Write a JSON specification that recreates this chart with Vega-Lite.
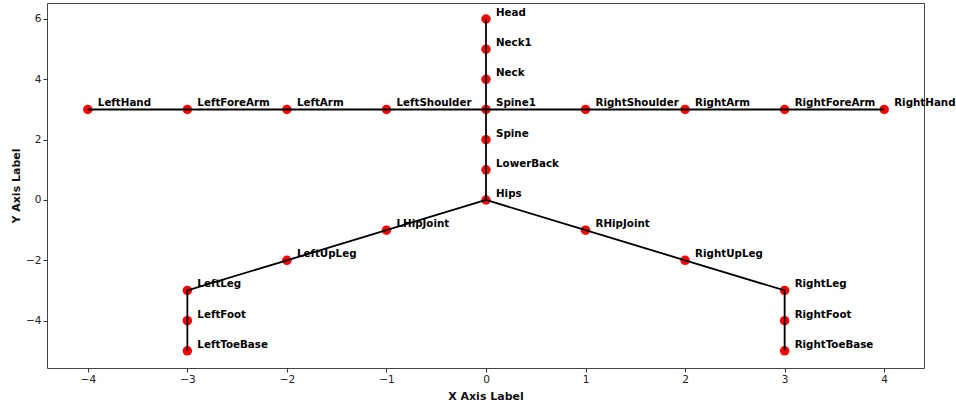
{
  "$schema": "https://vega.github.io/schema/vega-lite/v6.json",
  "width": 877,
  "height": 365,
  "autosize": {"type": "none"},
  "padding": {"left": 47, "top": 3, "right": 32, "bottom": 34},
  "background": "white",
  "config": {
    "view": {"stroke": "#444", "strokeWidth": 1},
    "font": "DejaVu Sans",
    "axis": {
      "grid": false,
      "domain": false,
      "tickColor": "#333",
      "tickSize": 4,
      "labelFont": "DejaVu Sans",
      "labelFontSize": 10.5,
      "labelColor": "#222",
      "titleFont": "DejaVu Sans",
      "titleFontSize": 11,
      "titleFontWeight": "bold",
      "titleColor": "#111"
    }
  },
  "datasets": {
    "joints": [
      {"name": "Hips", "x": 0, "y": 0},
      {"name": "LowerBack", "x": 0, "y": 1},
      {"name": "Spine", "x": 0, "y": 2},
      {"name": "Spine1", "x": 0, "y": 3},
      {"name": "Neck", "x": 0, "y": 4},
      {"name": "Neck1", "x": 0, "y": 5},
      {"name": "Head", "x": 0, "y": 6},
      {"name": "LeftShoulder", "x": -1, "y": 3},
      {"name": "LeftArm", "x": -2, "y": 3},
      {"name": "LeftForeArm", "x": -3, "y": 3},
      {"name": "LeftHand", "x": -4, "y": 3},
      {"name": "RightShoulder", "x": 1, "y": 3},
      {"name": "RightArm", "x": 2, "y": 3},
      {"name": "RightForeArm", "x": 3, "y": 3},
      {"name": "RightHand", "x": 4, "y": 3},
      {"name": "LHipJoint", "x": -1, "y": -1},
      {"name": "LeftUpLeg", "x": -2, "y": -2},
      {"name": "LeftLeg", "x": -3, "y": -3},
      {"name": "LeftFoot", "x": -3, "y": -4},
      {"name": "LeftToeBase", "x": -3, "y": -5},
      {"name": "RHipJoint", "x": 1, "y": -1},
      {"name": "RightUpLeg", "x": 2, "y": -2},
      {"name": "RightLeg", "x": 3, "y": -3},
      {"name": "RightFoot", "x": 3, "y": -4},
      {"name": "RightToeBase", "x": 3, "y": -5}
    ],
    "bones": [
      {"chain": "spine", "order": 0, "x": 0, "y": 0},
      {"chain": "spine", "order": 1, "x": 0, "y": 1},
      {"chain": "spine", "order": 2, "x": 0, "y": 2},
      {"chain": "spine", "order": 3, "x": 0, "y": 3},
      {"chain": "spine", "order": 4, "x": 0, "y": 4},
      {"chain": "spine", "order": 5, "x": 0, "y": 5},
      {"chain": "spine", "order": 6, "x": 0, "y": 6},
      {"chain": "larm", "order": 0, "x": 0, "y": 3},
      {"chain": "larm", "order": 1, "x": -1, "y": 3},
      {"chain": "larm", "order": 2, "x": -2, "y": 3},
      {"chain": "larm", "order": 3, "x": -3, "y": 3},
      {"chain": "larm", "order": 4, "x": -4, "y": 3},
      {"chain": "rarm", "order": 0, "x": 0, "y": 3},
      {"chain": "rarm", "order": 1, "x": 1, "y": 3},
      {"chain": "rarm", "order": 2, "x": 2, "y": 3},
      {"chain": "rarm", "order": 3, "x": 3, "y": 3},
      {"chain": "rarm", "order": 4, "x": 4, "y": 3},
      {"chain": "lleg", "order": 0, "x": 0, "y": 0},
      {"chain": "lleg", "order": 1, "x": -1, "y": -1},
      {"chain": "lleg", "order": 2, "x": -2, "y": -2},
      {"chain": "lleg", "order": 3, "x": -3, "y": -3},
      {"chain": "lleg", "order": 4, "x": -3, "y": -4},
      {"chain": "lleg", "order": 5, "x": -3, "y": -5},
      {"chain": "rleg", "order": 0, "x": 0, "y": 0},
      {"chain": "rleg", "order": 1, "x": 1, "y": -1},
      {"chain": "rleg", "order": 2, "x": 2, "y": -2},
      {"chain": "rleg", "order": 3, "x": 3, "y": -3},
      {"chain": "rleg", "order": 4, "x": 3, "y": -4},
      {"chain": "rleg", "order": 5, "x": 3, "y": -5}
    ]
  },
  "encoding": {
    "x": {
      "field": "x", "type": "quantitative",
      "scale": {"domain": [-4.41, 4.40], "nice": false, "zero": false},
      "axis": {"values": [-4, -3, -2, -1, 0, 1, 2, 3, 4], "title": "X Axis Label", "titlePadding": 6}
    },
    "y": {
      "field": "y", "type": "quantitative",
      "scale": {"domain": [-5.57, 6.53], "nice": false, "zero": false},
      "axis": {"values": [-4, -2, 0, 2, 4, 6], "title": "Y Axis Label", "titlePadding": 4}
    }
  },
  "layer": [
    {
      "data": {"name": "joints"},
      "mark": {"type": "point", "filled": true, "color": "#ff0000", "size": 90, "opacity": 1}
    },
    {
      "data": {"name": "bones"},
      "mark": {"type": "line", "color": "black", "strokeWidth": 1.8},
      "encoding": {
        "detail": {"field": "chain"},
        "order": {"field": "order", "type": "quantitative"}
      }
    },
    {
      "data": {"name": "joints"},
      "mark": {"type": "text", "align": "left", "baseline": "middle", "dx": 10, "dy": -6, "fontSize": 10.3, "fontWeight": "bold", "color": "black", "font": "DejaVu Sans"},
      "encoding": {"text": {"field": "name"}}
    }
  ]
}
